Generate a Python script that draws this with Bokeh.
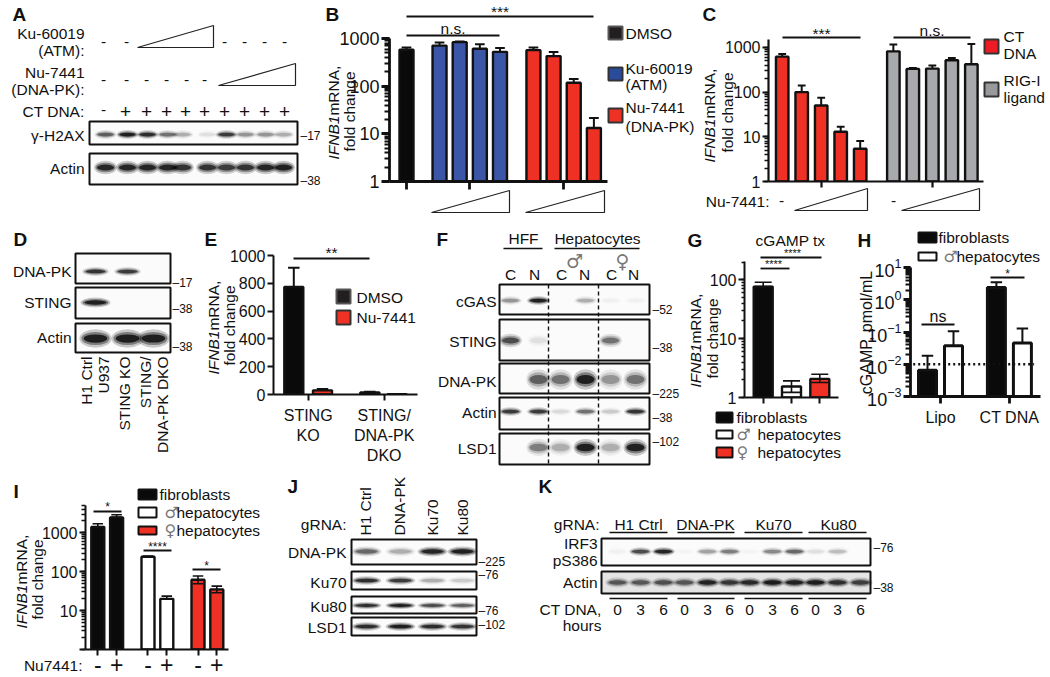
from bokeh.plotting import figure
from bokeh.layouts import column
from bokeh.models import FixedTicker
from bokeh.core.properties import value
from bokeh.embed import file_html
from bokeh.resources import INLINE

FONT = "Liberation Sans"
BLACK, BLUE, RED, GRAY, WHITE = "#0a0a0a", "#3b56a6", "#ee3124", "#a7a9ac", "#ffffff"
LOG_LABELS = {1: "1", 10: "10", 100: "100", 1000: "1000"}

# ---- chart data ----
B_vals = [580, 710, 838, 608, 525, 570, 427, 118, 13.3]
B_errs = [645, 825, 860, 760, 630, 645, 518, 141, 21.5]
C_vals = [620, 100, 50, 13, 5.4, 815, 330, 335, 514, 419]
C_errs = [711, 141, 75, 16.7, 8, 1166, 347, 392, 580, 1186]
E_vals = [773, 30, 15, 3]
E_errs = [911, 40, 20, 4]
G_vals = [76.7, 1.54, 2.07]
G_errs = [91, 1.92, 2.49]
G_lows = [76.7, 1.22, 1.8]
H_vals = [0.0065, 0.0374, 2.4, 0.046]
H_errs = [0.0184, 0.106, 3.5, 0.128]
H_dotted = 0.01
I_vals = [1396, 2470, 241, 20, 62, 35]
I_errs = [1700, 2890, 251, 23.5, 77, 42.5]
I_lows = [1396, 2470, 241, 20, 49, 28.6]
I_labels = ["-", "+", "-", "+", "-", "+"]
H_cats = ["Lipo", "CT DNA"]
E_cats = ["STING\nKO", "STING/\nDNA-PK\nDKO"]

# ---- blot band intensities (one per lane) ----
A_h2ax = [.6, 1, .9, .5, .25, .08, .8, .35, .35, .25]
A_actin = [.95, .95, .95, .95, .85, .85, .8, .85, .95, 1]
D_dnapk = [.85, .8, 0]
D_sting = [1, 0, 0]
D_actin = [1, 1, 1]
F_cgas = [.35, 1, 0, .25, .03, .03]
F_sting = [.7, .08, 0, 0, .5, 0]
F_dnapk = [0, .6, .5, 1, .35, .5]
F_actin = [.8, .8, .1, .5, .15, .85]
F_lsd1 = [0, .45, .25, 1, .25, 1]
J_dnapk = [.55, .25, .95, 1]
J_ku70 = [.9, .8, .25, .15]
J_ku80 = [.9, 1, .7, .6]
J_lsd1 = [.9, 1, .9, .85]
K_irf3 = [.03, .7, .95, .02, .3, .45, .02, .4, .55, .08, .2, 0]
K_actin = [.6, .6, .65, .6, .95, .8, .9, 1, .95, 1, .85, .75]

W, H = 1050, 677
bg = figure(width=W, height=H, x_range=(0, W), y_range=(0, H), toolbar_location=None, frame_align=False,
            output_backend="svg", min_border=0, x_axis_type=None, y_axis_type=None,
            outline_line_color=None, styles={"position": "absolute", "left": "0px", "top": "0px"})
bg.grid.visible = False


def Y(y):
    return H - y


def T(x, y, s, size=15.5, align="left", angle=0, style="normal", color="#111111", font=FONT):
    bg.text(x=[x], y=[Y(y)], text=[s], text_font=value(font), text_font_size=f"{size}px",
            text_align=align, text_baseline="middle", angle=angle, text_font_style=style,
            text_color=color)


def L(x0, y0, x1, y1, w=2.0, dash="solid"):
    bg.line([x0, x1], [Y(y0), Y(y1)], line_color="#111111", line_width=w, line_dash=dash)


def wedge(x0, x1, ytop, ybot):
    bg.patch([x0, x1, x1], [Y(ybot), Y(ytop), Y(ybot)], fill_color="white", line_color="#222222", line_width=1.2)


def box(x0, x1, y0, y1, fill, lc="#333333", lw=2.0):
    bg.quad(left=x0, right=x1, top=Y(y0), bottom=Y(y1), fill_color=fill, line_color=lc, line_width=lw)


def blot(x0, x1, y0, y1, lanes, bands, bw, bh, yc=None, fill="#fbfbfb"):
    box(x0, x1, y0, y1, fill, "#111111", 2.0)
    yc = (y0 + y1) / 2 if yc is None else yc
    for lx, b in zip(lanes, bands):
        if b <= 0:
            continue
        for sw, sh, a in ((1.15, 1.7, .16), (1.0, 1.2, .3), (.85, .75, .6)):
            bg.ellipse(x=[lx], y=[Y(yc)], width=bw * sw, height=bh * sh, fill_color="#000000",
                       fill_alpha=min(1, a * b * 1.25), line_color=None)


def sig(x0, x1, y, s, ys, xc=None, size=15.5):
    L(x0, y, x1, y, 1.8)
    T((x0 + x1) / 2 if xc is None else xc, ys, s, size=size, align="center")


def ylabel(x, ybot, second=None, x2=None, size=15.5):
    T(x, ybot, "IFNB1", size=size, angle=1.5708, style="italic", align="left")
    T(x, ybot - 2.834 * size, " mRNA,", size=size, angle=1.5708, align="left")
    if second:
        T(x2, second, "fold change", size=size, angle=1.5708, align="center")


# ---- chart helper ----
charts = []


def chart(xl, xr, ytop, ybot, c0, s, yr, log=True, axw=2.0, fs=16, tick_x=None, labels=None, lab_fs=16,
          ml=58, mb=46, mt=10, mr=3, major=7, minor=4, xstand=3, plain=True):
    p = figure(width=int(xr - xl + ml + mr), height=int(ybot - ytop + mt + mb), frame_align=False,
               x_range=((xl - c0) / s, (xr - c0) / s), y_range=yr,
               y_axis_type="log" if log else "linear", toolbar_location=None, output_backend="svg",
               min_border_left=ml, min_border_right=mr, min_border_top=mt, min_border_bottom=mb,
               background_fill_color=None, border_fill_color=None, outline_line_color=None,
               styles={"position": "absolute", "left": f"{int(xl - ml)}px", "top": f"{int(ytop - mt)}px"})
    p.grid.visible = False
    for ax in (p.xaxis[0], p.yaxis[0]):
        ax.axis_line_width = axw
        ax.axis_line_color = "#111111"
        ax.major_tick_line_color = "#111111"
        ax.minor_tick_line_color = "#111111"
        ax.major_tick_line_width = axw
        ax.minor_tick_line_width = max(1.2, axw - .6)
        ax.major_tick_in = 0
        ax.minor_tick_in = 0
        ax.major_tick_out = major
        ax.minor_tick_out = minor
        ax.major_label_text_font = FONT
        ax.major_label_text_font_size = f"{fs}px"
        ax.major_label_text_color = "#111111"
    p.xaxis[0].minor_tick_line_color = None
    p.xaxis[0].ticker = FixedTicker(ticks=tick_x)
    p.xaxis[0].major_label_standoff = xstand
    p.xaxis[0].major_label_text_font_size = f"{lab_fs}px"
    p.yaxis[0].major_label_standoff = 2
    if log and plain:
        p.yaxis[0].major_label_overrides = LOG_LABELS
    p.xaxis[0].major_label_overrides = {t: (labels[i] if labels else "") for i, t in enumerate(tick_x)}
    charts.append(p)
    return p


def bars(p, xs, vals, errs, colors, w, base, capw=.22, lows=None, lw=2.4, elw=2.0):
    p.vbar(x=xs, top=vals, bottom=base, width=w, fill_color=colors, line_color="#111111", line_width=lw)
    p.segment(xs, vals, xs, errs, line_color="#111111", line_width=elw)
    p.segment([x - capw for x in xs], errs, [x + capw for x in xs], errs, line_color="#111111", line_width=elw)
    if lows:
        p.segment(xs, vals, xs, lows, line_color="#111111", line_width=elw)
        p.segment([x - capw for x in xs], lows, [x + capw for x in xs], lows, line_color="#111111", line_width=elw)


# ---- A ----
T(12, 14, "A", 19, style="bold")
for y, s in ((33, "Ku-60019"), (50, "(ATM):"), (72, "Nu-7441"), (89, "(DNA-PK):"), (111, "CT DNA:"), (135, "γ-H2AX"), (168, "Actin")):
    T(84, y, s, align="right")
for x in (103, 126, 224, 244, 264, 284):
    T(x, 41, "-", 15.5, "center")
for x in (103, 126, 146, 166, 186, 204):
    T(x, 79, "-", 15.5, "center")
T(103, 109, "-", 15.5, "center")
for x in (125, 146, 166, 185, 204, 224, 244, 264, 284):
    T(x, 111, "+", 19, "center")
wedge(137, 213, 25, 47)
wedge(218, 295, 63, 85)
A_x = [105, 127, 147, 167, 182, 207, 226, 245, 265, 283]
blot(89, 297, 121, 144, A_x, A_h2ax, 19, 5, yc=134)
blot(89, 297, 153, 184, A_x, A_actin, 20, 8, yc=167)
T(300, 135, "–17", 12)
T(300, 180, "–38", 12)

# ---- B ----
T(325, 14, "B", 19, style="bold")
ylabel(333, 159, 111, 349)
B_s = 20.15
B_x = [0] + [1.64 + i for i in range(4)] + [6.3 + i for i in range(4)]
B_c = [BLACK] + [BLUE] * 4 + [RED] * 4
pB = chart(389, 607, 38.7, 182, 406, B_s, (1, 1000), axw=2.8, fs=18, tick_x=[0, 3.13, 7.8], major=8, minor=5)
bars(pB, B_x, B_vals, B_errs, B_c, 14 / B_s, 1, capw=.24)
sig(406, 593, 16, "***", 11)
sig(406, 499, 35, "n.s.", 28)
wedge(431, 509, 190, 212)
wedge(525, 604, 190, 212)
box(608, 622, 26, 39, "#231f20", "#555555")
T(625, 33, "DMSO")
box(608, 622, 67, 80, "#2a4a9c", "#333333")
T(625, 68, "Ku-60019")
T(625, 84, "(ATM)")
box(608, 622, 108, 122, RED, "#333333")
T(625, 107, "Nu-7441")
T(625, 126, "(DNA-PK)")

# ---- C ----
T(702, 14, "C", 19, style="bold")
ylabel(709, 162, 112, 727)
C_s = 19.5
C_x = [0, 1, 2, 3, 4] + [5.7 + i for i in range(5)]
C_c = [RED] * 5 + [GRAY] * 5
pC = chart(768, 983, 39.4, 182.3, 781.7, C_s, (1, 1500), axw=2.2, tick_x=[2, 7.7], major=6)
bars(pC, C_x, C_vals, C_errs, C_c, 12.5 / C_s, 1, capw=.2)
sig(782, 860, 37, "***", 33)
sig(893, 970, 37, "n.s.", 30)
box(984, 998, 39, 53, "#ed1c24", "#333333")
T(1003, 36, "CT")
T(1003, 53, "DNA")
box(984, 998, 82, 96, "#98999b", "#333333")
T(1003, 80, "RIG-I")
T(1003, 97, "ligand")
T(769, 201, "Nu-7441:", align="right")
T(781, 200, "-", 15.5, "center")
T(893, 200, "-", 15.5, "center")
wedge(794, 867, 188, 210)
wedge(901, 979, 188, 210)

# ---- D ----
T(13, 239, "D", 19, style="bold")
D_x = [95, 127, 153]
blot(75, 170, 253, 283, D_x, D_dnapk, 23, 5, yc=271)
blot(75, 170, 287, 318, D_x, D_sting, 26, 6, yc=302)
blot(75, 170, 323, 352, D_x, D_actin, 28, 11, yc=338)
for y, s in ((271, "DNA-PK"), (302, "STING"), (337, "Actin")):
    T(71, y, s, align="right")
for y, s in ((282, "–17"), (308, "–38"), (346, "–38")):
    T(172, y, s, 12)
for x, s in ((86, "H1 Ctrl"), (103, "U937"), (124, "STING KO"), (145, "STING/"), (162, "DNA-PK DKO")):
    T(x, 356, s, align="right", angle=1.5708)

# ---- E ----
T(204, 239, "E", 19, style="bold")
ylabel(213, 374, 325, 229)
pE = chart(273, 417, 255, 397.3, 293.3, 28.7, (0, 1000), log=False, axw=2.0, tick_x=[.5, 3.15], labels=E_cats,
           major=6, mb=70, xstand=6)
pE.yaxis[0].ticker = FixedTicker(ticks=[0, 200, 400, 600, 800, 1000])
bars(pE, [0, 1, 2.65, 3.6], E_vals, E_errs, [BLACK, RED, BLACK, RED], 19 / 28.7, 0, capw=.2)
sig(293, 369, 258, "**", 252)
box(336, 350, 289, 303, "#231f20", "#555555")
T(356, 297, "DMSO")
box(336, 350, 310, 324, RED, "#333333")
T(356, 317, "Nu-7441")

# ---- F ----
T(436, 239, "F", 19, style="bold")
T(523, 238, "HFF", align="center")
T(597, 238, "Hepatocytes", align="center")
L(503, 248, 542, 248, 1.6)
L(554, 248, 639, 248, 1.6)
T(574, 260, "♂", 19, "center", color="#777777", font="DejaVu Sans")
T(622, 260, "♀", 19, "center", color="#777777", font="DejaVu Sans")
for x, s in ((510, "C"), (534, "N"), (561, "C"), (584, "N"), (611, "C"), (633, "N")):
    T(x, 274, s, align="center")
F_x = [510, 538, 560, 585, 610, 635]
blot(499, 649, 284, 314, F_x, F_cgas, 20, 5, yc=300)
blot(499, 649, 319, 360, F_x, F_sting, 20, 8, yc=340)
blot(499, 649, 363, 393, F_x, F_dnapk, 21, 12, yc=379)
blot(499, 649, 397, 429, F_x, F_actin, 20, 5, yc=411)
blot(499, 649, 433, 464, F_x, F_lsd1, 21, 10, yc=447)
for y, s in ((301, "cGAS"), (341, "STING"), (381, "DNA-PK"), (412, "Actin"), (448, "LSD1")):
    T(496, y, s, align="right")
for y, s in ((309, "–52"), (347, "–38"), (393, "–225"), (417, "–38"), (441, "–102")):
    T(652, y, s, 12)
L(548, 284, 548, 464, 1.4, "4 3")
L(598, 284, 598, 464, 1.4, "4 3")

# ---- G ----
T(687, 240, "G", 19, style="bold")
T(790, 240, "cGAMP tx", align="center")
ylabel(695, 387, 338, 712)
pG = chart(744, 838, 261.7, 397.7, 762.7, 28.3, (1, 205), axw=2.0, tick_x=[0, 1, 2], major=6, minor=3, mb=12)
bars(pG, [0, 1, 2], G_vals, G_errs, [BLACK, WHITE, RED], 19 / 28.3, 1, capw=.3, lows=G_lows, elw=1.6)
L(760, 257, 821, 257, 1.8)
T(792, 252, "****", 11, "center")
L(760, 268, 789, 268, 1.8)
T(773, 263, "****", 11, "center")
box(716, 732, 412, 422, BLACK, "#111111")
T(736, 417, "fibroblasts")
box(716, 732, 430, 438, WHITE, "#111111")
T(736, 434, "♂", 16, color="#777777", font="DejaVu Sans")
T(757, 434, "hepatocytes")
box(716, 732, 447, 457, RED, "#111111")
T(736, 452, "♀", 16, color="#777777", font="DejaVu Sans")
T(757, 452, "hepatocytes")

# ---- H ----
T(857, 240, "H", 19, style="bold")
box(918, 936, 232, 242, BLACK, "#111111")
T(938, 237, "fibroblasts")
box(918, 936, 252, 260, WHITE, "#111111")
T(943, 256, "♂", 16, color="#777777", font="DejaVu Sans")
T(956, 256, "hepatocytes")
T(866, 332, "cGAMP, pmol/mL", angle=1.5708, align="center", size=16)
pH = chart(910, 1040, 267, 396.7, 927, 26.0, (0.001, 10), axw=2.8, fs=18, tick_x=[.5, 3.15], labels=H_cats, major=7, minor=5,
           xstand=5, mb=36, plain=False)
bars(pH, [0, 1, 2.65, 3.65], H_vals, H_errs, [BLACK, WHITE, BLACK, WHITE], 18 / 26.0, 0.001, capw=.22, lw=3)
pH.line([-.55, 4.1], [H_dotted, H_dotted], line_color="#111111", line_width=2.4, line_dash="2 3")
sig(921, 954, 324, "ns", 316, size=16)
sig(990, 1024, 277, "*", 273, size=12)

# ---- I ----
T(13, 491, "I", 19, style="bold")
box(138, 156, 489, 499, BLACK, "#111111")
T(159, 494, "fibroblasts")
box(138, 156, 507, 517, WHITE, "#111111")
T(164, 512, "♂", 16, color="#777777", font="DejaVu Sans")
T(176, 512, "hepatocytes")
box(138, 156, 526, 534, RED, "#111111")
T(164, 530, "♀", 16, color="#777777", font="DejaVu Sans")
T(176, 530, "hepatocytes")
ylabel(21, 628, 579, 37)
I_s = 18.8
I_x = [0, 1, 2.67, 3.67, 5.33, 6.33]
pI = chart(85, 228, 505, 649, 97.3, I_s, (1, 5000), axw=2.0, tick_x=I_x, labels=I_labels, lab_fs=23, major=6, mb=27, xstand=0)
pI.yaxis[0].major_label_overrides = {1: "", 10: "10", 100: "100", 1000: "1000"}
bars(pI, I_x, I_vals, I_errs, [BLACK, BLACK, WHITE, WHITE, RED, RED], 13 / I_s, 1, capw=.28, lows=I_lows, elw=1.6)
sig(93, 121, 511, "*", 506, size=12)
sig(143, 171, 550, "****", 546, size=12)
sig(192, 220, 569, "*", 565, size=12)
T(82, 665, "Nu7441:", align="right")

# ---- J ----
T(287, 486, "J", 19, style="bold")
T(346, 524, "gRNA:", align="right")
for x, s in ((365, "H1 Ctrl"), (399, "DNA-PK"), (432, "Ku70"), (462, "Ku80")):
    T(x, 535, s, angle=1.5708)
J_x = [366, 400, 432, 462]
blot(351, 476, 539, 564, J_x, J_dnapk, 26, 6, yc=551)
blot(351, 476, 571, 589, J_x, J_ku70, 26, 5, yc=580)
blot(351, 476, 596, 613, J_x, J_ku80, 26, 4, yc=605)
blot(351, 476, 617, 635, J_x, J_lsd1, 26, 5, yc=626)
for y, s in ((552, "DNA-PK"), (582, "Ku70"), (606, "Ku80"), (627, "LSD1")):
    T(346, y, s, align="right")
for y, s in ((561, "–225"), (574, "–76"), (610, "–76"), (624, "–102")):
    T(478, y, s, 12)

# ---- K ----
T(538, 486, "K", 19, style="bold")
T(599, 524, "gRNA:", align="right")
for x, s in ((638, "H1 Ctrl"), (705, "DNA-PK"), (773, "Ku70"), (838, "Ku80")):
    T(x, 524, s, align="center")
for x0, x1 in ((609, 667), (677, 734), (744, 802), (808, 866)):
    L(x0, 532, x1, 532, 1.6)
    L(x0, 598, x1, 598, 1.6)
K_x = [617, 640, 663, 684, 707, 729, 749, 772, 794, 815, 837, 860]
K_t = ["0", "3", "6"] * 4
blot(601, 870, 538, 565, K_x, K_irf3, 20, 5, yc=551)
blot(601, 870, 571, 593, K_x, K_actin, 21, 6, yc=582, fill="#e4e4e4")
for x, s in zip(K_x, K_t):
    T(x, 609, s, align="center")
for y, s in ((543, "IRF3"), (560, "pS386"), (582, "Actin")):
    T(597, y, s, align="right")
T(601, 609, "CT DNA,", align="right")
T(601, 625, "hours", align="right")
T(873, 547, "–76", 12)
T(873, 587, "–38", 12)

page = column(bg, *charts, width=W, height=H, styles={"position": "absolute", "left": "0px", "top": "0px"})
open("out.html", "w").write(file_html(page, INLINE))
